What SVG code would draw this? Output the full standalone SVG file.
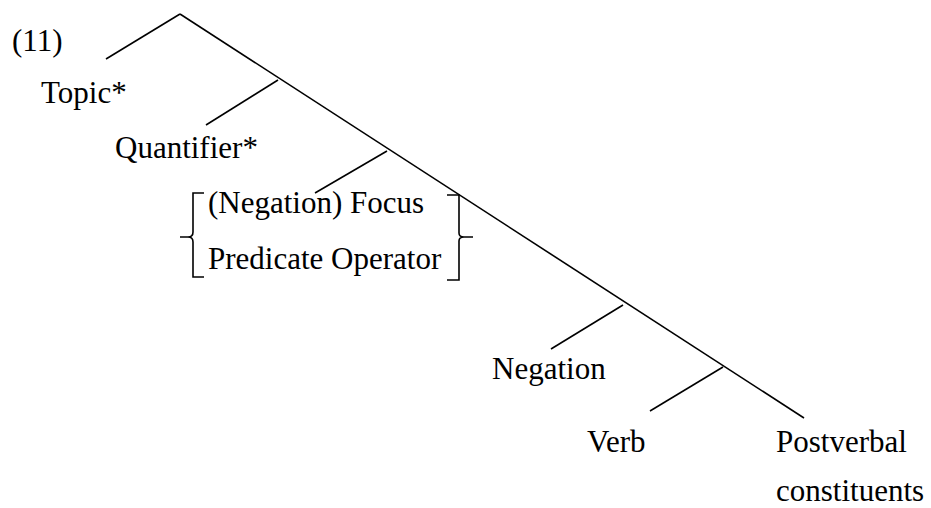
<svg xmlns="http://www.w3.org/2000/svg" width="931" height="508" viewBox="0 0 931 508">
<style>
text{font-family:"Liberation Serif","Times New Roman",serif;font-size:31px;fill:#000}
.e{stroke:#000;stroke-width:1.6;fill:none}
</style>
<rect width="931" height="508" fill="#fff"/>
<g id="connectors">
<line class="e" x1="180" y1="14" x2="804" y2="418"/>
<line class="e" x1="180" y1="14" x2="106" y2="59"/>
<line class="e" x1="278" y1="80" x2="206" y2="125"/>
<line class="e" x1="387" y1="151" x2="315" y2="193"/>
<line class="e" x1="623" y1="305" x2="551" y2="349"/>
<line class="e" x1="723" y1="367" x2="650" y2="411"/>
</g>
<g id="label"><text x="12" y="51">(11)</text></g>
<g id="topic"><text x="41" y="103">Topic*</text></g>
<g id="quantifier"><text x="115" y="158">Quantifier*</text></g>
<g id="focus">
<path class="e" d="M204,193 H193 V232 Q193,237 188,237 H180 M188,237 Q193,237 193,242 V277 H204"/>
<text x="208" y="213">(Negation) Focus</text>
<text x="208" y="269">Predicate Operator</text>
<path class="e" d="M447,195 H459 V233 Q459,237 464,237 H473 M464,237 Q459,237 459,241 V280 H447"/>
</g>
<g id="negation"><text x="492" y="379">Negation</text></g>
<g id="verb"><text x="587" y="452">Verb</text></g>
<g id="postverbal">
<text x="776" y="452">Postverbal</text>
<text x="776" y="501">constituents</text>
</g>
</svg>
